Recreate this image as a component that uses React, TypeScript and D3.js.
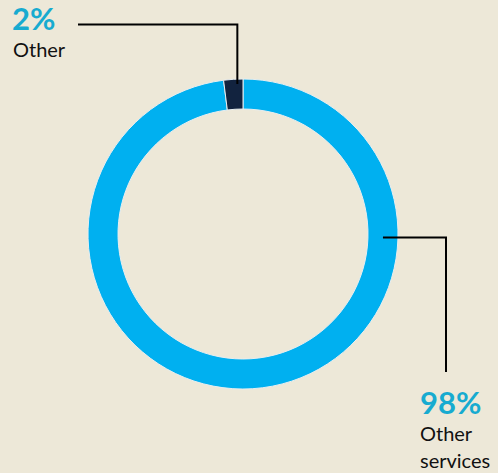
import { useEffect, useRef } from 'react';
import * as d3 from 'd3';

const CATEGORIES = ['Other services', 'Other'];
const VALUES = [98, 2];
const LABEL_LINES = [['Other', 'services'], ['Other']];
const COLORS = ['#00b0f0', '#12233f'];

export default function App() {
  const ref = useRef<SVGSVGElement>(null);

  useEffect(() => {
    document.body.style.margin = '0';
    if (!ref.current) return;
    const width = 498;
    const height = 473;
    const svg = d3.select(ref.current);
    svg.selectAll('*').remove();

    svg.append('rect').attr('width', width).attr('height', height).attr('fill', '#ede8d8');

    const cx = 243;
    const cy = 234;
    const outerR = 155;
    const innerR = 125;
    const midR = (outerR + innerR) / 2;

    const data = CATEGORIES.map((c, i) => ({ name: c, value: VALUES[i], lines: LABEL_LINES[i], color: COLORS[i] }));
    type D = typeof data[number];

    const pie = d3.pie<D>().sort(null).value(d => d.value).startAngle(0).endAngle(Math.PI * 2);
    const arcs = pie(data);
    const arc = d3.arc<d3.PieArcDatum<D>>().innerRadius(innerR).outerRadius(outerR);

    const g = svg.append('g').attr('transform', `translate(${cx},${cy})`);
    g.selectAll('path')
      .data(arcs)
      .join('path')
      .attr('d', arc)
      .attr('fill', d => d.data.color)
      .attr('stroke', '#e8eef0')
      .attr('stroke-width', 1);

    const font = 'Lato, "Open Sans", sans-serif';
    const pt = (a: number, r: number) => [cx + r * Math.sin(a), cy - r * Math.cos(a)];

    // "Other services" leader: from ring middle at 3 o'clock, right then down
    const big = arcs[0];
    const [sx, sy] = pt(Math.PI / 2 + 0.025, midR);
    const elbowX = cx + 203;
    const downY = cy + 138;
    svg.append('path')
      .attr('d', `M${sx},${sy}H${elbowX}V${downY}`)
      .attr('fill', 'none').attr('stroke', '#000').attr('stroke-width', 2);

    const bx = 420;
    svg.append('text').attr('x', bx).attr('y', 414)
      .attr('font-family', font).attr('font-weight', 700).attr('font-size', 31)
      .attr('fill', '#17abd0').text(`${big.data.value}%`);
    big.data.lines.forEach((l, i) => {
      svg.append('text').attr('x', bx).attr('y', 441 + i * 27)
        .attr('font-family', font).attr('font-size', 20).attr('fill', '#111').text(l);
    });

    // "Other" leader: from the small slice up then left
    const small = arcs[1];
    const a = small.endAngle - (small.endAngle - small.startAngle) * 0.3;
    const [ox, oy] = pt(a, outerR - 5);
    const topY = 24.5;
    const leftX = 78;
    svg.append('path')
      .attr('d', `M${ox},${oy}V${topY}H${leftX}`)
      .attr('fill', 'none').attr('stroke', '#000').attr('stroke-width', 2);

    svg.append('text').attr('x', 12).attr('y', 30)
      .attr('font-family', font).attr('font-weight', 700).attr('font-size', 31)
      .attr('fill', '#17abd0').text(`${small.data.value}%`);
    small.data.lines.forEach((l, i) => {
      svg.append('text').attr('x', 13).attr('y', 57 + i * 27)
        .attr('font-family', font).attr('font-size', 20).attr('fill', '#111').text(l);
    });
  }, []);

  return <svg ref={ref} width={498} height={473} style={{ display: 'block' }} />;
}
